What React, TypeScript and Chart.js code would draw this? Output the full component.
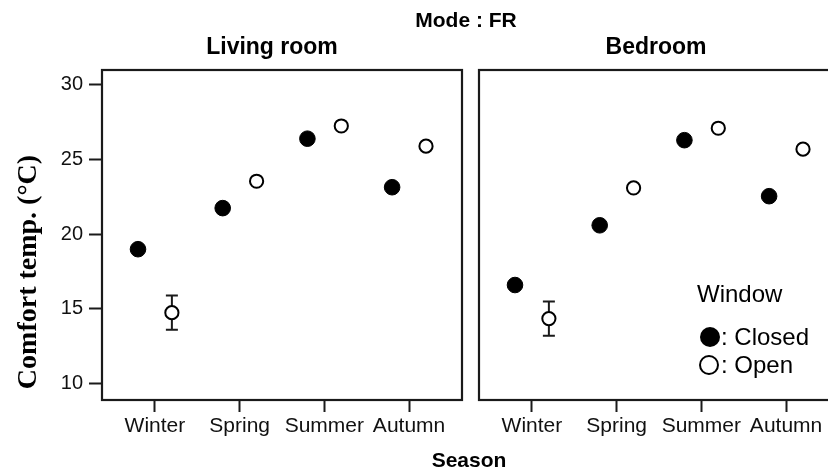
import { useEffect, useRef } from 'react';
import { Chart, registerables } from 'chart.js';

Chart.register(...registerables);

// Seasons on the x axis and the y tick values
const SEASONS = ['Winter', 'Spring', 'Summer', 'Autumn'];
const Y_TICKS = [10, 15, 20, 25, 30];
const Y_MIN = 8.9;
const Y_MAX = 31.0;

// Comfort temperature (°C), living room
const LIVING_CLOSED = [19.0, 21.75, 26.4, 23.15];
const LIVING_OPEN = [14.75, 23.55, 27.25, 25.9];
const LIVING_OPEN_ERR = [1.15, 0, 0, 0];

// Comfort temperature (°C), bedroom
const BEDROOM_CLOSED = [16.6, 20.6, 26.3, 22.55];
const BEDROOM_OPEN = [14.35, 23.1, 27.1, 25.7];
const BEDROOM_OPEN_ERR = [1.15, 0, 0, 0];

const DODGE = 0.2;
const INK = '#1a1a1a';
const SANS = '"Liberation Sans", Arial, sans-serif';

// Full box around the plotting area of each facet
const framePlugin = {
  id: 'frame',
  afterDraw(chart: any) {
    const { ctx, chartArea: a } = chart;
    ctx.save();
    ctx.strokeStyle = INK;
    ctx.lineWidth = 2.2;
    ctx.strokeRect(a.left, a.top, a.right - a.left, a.bottom - a.top);
    ctx.restore();
  },
};

// Capped vertical error bars, drawn before the markers so open circles cover them
const errorBarPlugin = {
  id: 'errorBars',
  beforeDatasetsDraw(chart: any) {
    const { ctx } = chart;
    const yScale = chart.scales.y;
    ctx.save();
    ctx.strokeStyle = INK;
    ctx.lineWidth = 2;
    chart.data.datasets.forEach((ds: any, di: number) => {
      if (!ds.errors) return;
      const meta = chart.getDatasetMeta(di);
      ds.errors.forEach((err: number, i: number) => {
        if (!err) return;
        const pt = meta.data[i];
        const v = ds.data[i].y;
        const top = yScale.getPixelForValue(v + err);
        const bot = yScale.getPixelForValue(v - err);
        const cap = 6;
        ctx.beginPath();
        ctx.moveTo(pt.x, top);
        ctx.lineTo(pt.x, bot);
        ctx.moveTo(pt.x - cap, top);
        ctx.lineTo(pt.x + cap, top);
        ctx.moveTo(pt.x - cap, bot);
        ctx.lineTo(pt.x + cap, bot);
        ctx.stroke();
      });
    });
    ctx.restore();
  },
};

function datasets(closed: number[], open: number[], openErr: number[]) {
  return [
    {
      label: 'Closed',
      data: SEASONS.map((_, i) => ({ x: i - DODGE, y: closed[i] })),
      pointRadius: 7.8,
      pointBorderWidth: 1,
      pointBackgroundColor: '#000',
      pointBorderColor: '#000',
      showLine: false,
    },
    {
      label: 'Open',
      data: SEASONS.map((_, i) => ({ x: i + DODGE, y: open[i] })),
      errors: openErr,
      pointRadius: 6.6,
      pointBorderWidth: 2,
      pointBackgroundColor: '#fff',
      pointBorderColor: '#000',
      showLine: false,
    },
  ];
}

function scales(showY: boolean) {
  return {
    x: {
      type: 'linear',
      min: -0.625,
      max: 3.625,
      afterBuildTicks: (s: any) => {
        s.ticks = SEASONS.map((_, i) => ({ value: i }));
      },
      afterFit: (s: any) => {
        s.height = 72;
      },
      border: { display: false },
      grid: {
        drawOnChartArea: false,
        drawTicks: true,
        tickLength: 12,
        tickWidth: 2,
        tickColor: INK,
      },
      ticks: {
        callback: (v: number) => SEASONS[v] ?? '',
        font: { family: SANS, size: 21 },
        color: '#111',
        padding: 2,
        maxRotation: 0,
        autoSkip: false,
      },
    },
    y: {
      type: 'linear',
      display: showY,
      min: Y_MIN,
      max: Y_MAX,
      afterBuildTicks: (s: any) => {
        s.ticks = Y_TICKS.map((v) => ({ value: v }));
      },
      afterFit: (s: any) => {
        if (showY) s.width = 102;
      },
      border: { display: false },
      grid: {
        drawOnChartArea: false,
        drawTicks: true,
        tickLength: 13,
        tickWidth: 2,
        tickColor: INK,
      },
      ticks: {
        font: { family: SANS, size: 20 },
        color: '#111',
        padding: 6,
      },
    },
  };
}

// Left facet: strip title, shared figure labels and the y axis title
const livingDecor = {
  id: 'livingDecor',
  afterDraw(chart: any) {
    const { ctx } = chart;
    ctx.save();
    ctx.fillStyle = '#000';
    ctx.textAlign = 'center';
    ctx.textBaseline = 'alphabetic';
    ctx.font = `bold 21px ${SANS}`;
    ctx.fillText('Mode : FR', 466, 27);
    ctx.font = `bold 23px ${SANS}`;
    ctx.fillText('Living room', 272, 54);
    ctx.font = `bold 21px ${SANS}`;
    ctx.fillText('Season', 469, 467);
    ctx.translate(36, 272);
    ctx.rotate(-Math.PI / 2);
    ctx.font = 'bold 28px "Liberation Serif", "Times New Roman", serif';
    ctx.fillText('Comfort temp. (°C)', 0, 0);
    ctx.restore();
  },
};

// Right facet: strip title and the Window legend
const bedroomDecor = {
  id: 'bedroomDecor',
  afterDraw(chart: any) {
    const { ctx } = chart;
    ctx.save();
    ctx.fillStyle = '#000';
    ctx.textBaseline = 'alphabetic';
    ctx.textAlign = 'center';
    ctx.font = `bold 23px ${SANS}`;
    ctx.fillText('Bedroom', 186, 54);

    ctx.textAlign = 'left';
    ctx.font = `24px ${SANS}`;
    ctx.fillText('Window', 227, 302);

    ctx.beginPath();
    ctx.arc(240, 337, 10, 0, Math.PI * 2);
    ctx.fillStyle = '#000';
    ctx.fill();
    ctx.fillText(': Closed', 251, 345);

    ctx.beginPath();
    ctx.arc(239, 365, 9, 0, Math.PI * 2);
    ctx.fillStyle = '#fff';
    ctx.fill();
    ctx.lineWidth = 2;
    ctx.strokeStyle = '#000';
    ctx.stroke();
    ctx.fillStyle = '#000';
    ctx.fillText(': Open', 251, 373);
    ctx.restore();
  },
};

function makeConfig(
  closed: number[],
  open: number[],
  openErr: number[],
  showY: boolean,
  padding: any,
  decor: any,
): any {
  return {
    type: 'scatter',
    data: { datasets: datasets(closed, open, openErr) },
    options: {
      animation: false,
      responsive: false,
      devicePixelRatio: 1,
      layout: { padding },
      plugins: {
        legend: { display: false },
        tooltip: { enabled: false },
      },
      scales: scales(showY),
    },
    plugins: [errorBarPlugin, framePlugin, decor],
  };
}

export default function App() {
  const leftRef = useRef<HTMLCanvasElement>(null);
  const rightRef = useRef<HTMLCanvasElement>(null);

  useEffect(() => {
    const left = new Chart(
      leftRef.current!,
      makeConfig(
        LIVING_CLOSED,
        LIVING_OPEN,
        LIVING_OPEN_ERR,
        true,
        { left: 0, right: 366, top: 70, bottom: 0 },
        livingDecor,
      ),
    );
    const right = new Chart(
      rightRef.current!,
      makeConfig(
        BEDROOM_CLOSED,
        BEDROOM_OPEN,
        BEDROOM_OPEN_ERR,
        false,
        { left: 9, right: 11, top: 70, bottom: 0 },
        bedroomDecor,
      ),
    );
    return () => {
      left.destroy();
      right.destroy();
    };
  }, []);

  return (
    <div
      style={{
        position: 'fixed',
        left: 0,
        top: 0,
        width: 828,
        height: 472,
        overflow: 'hidden',
        background: '#fff',
      }}
    >
      <canvas
        ref={leftRef}
        width={828}
        height={472}
        style={{ position: 'absolute', left: 0, top: 0 }}
      />
      <canvas
        ref={rightRef}
        width={380}
        height={472}
        style={{ position: 'absolute', left: 470, top: 0 }}
      />
    </div>
  );
}
